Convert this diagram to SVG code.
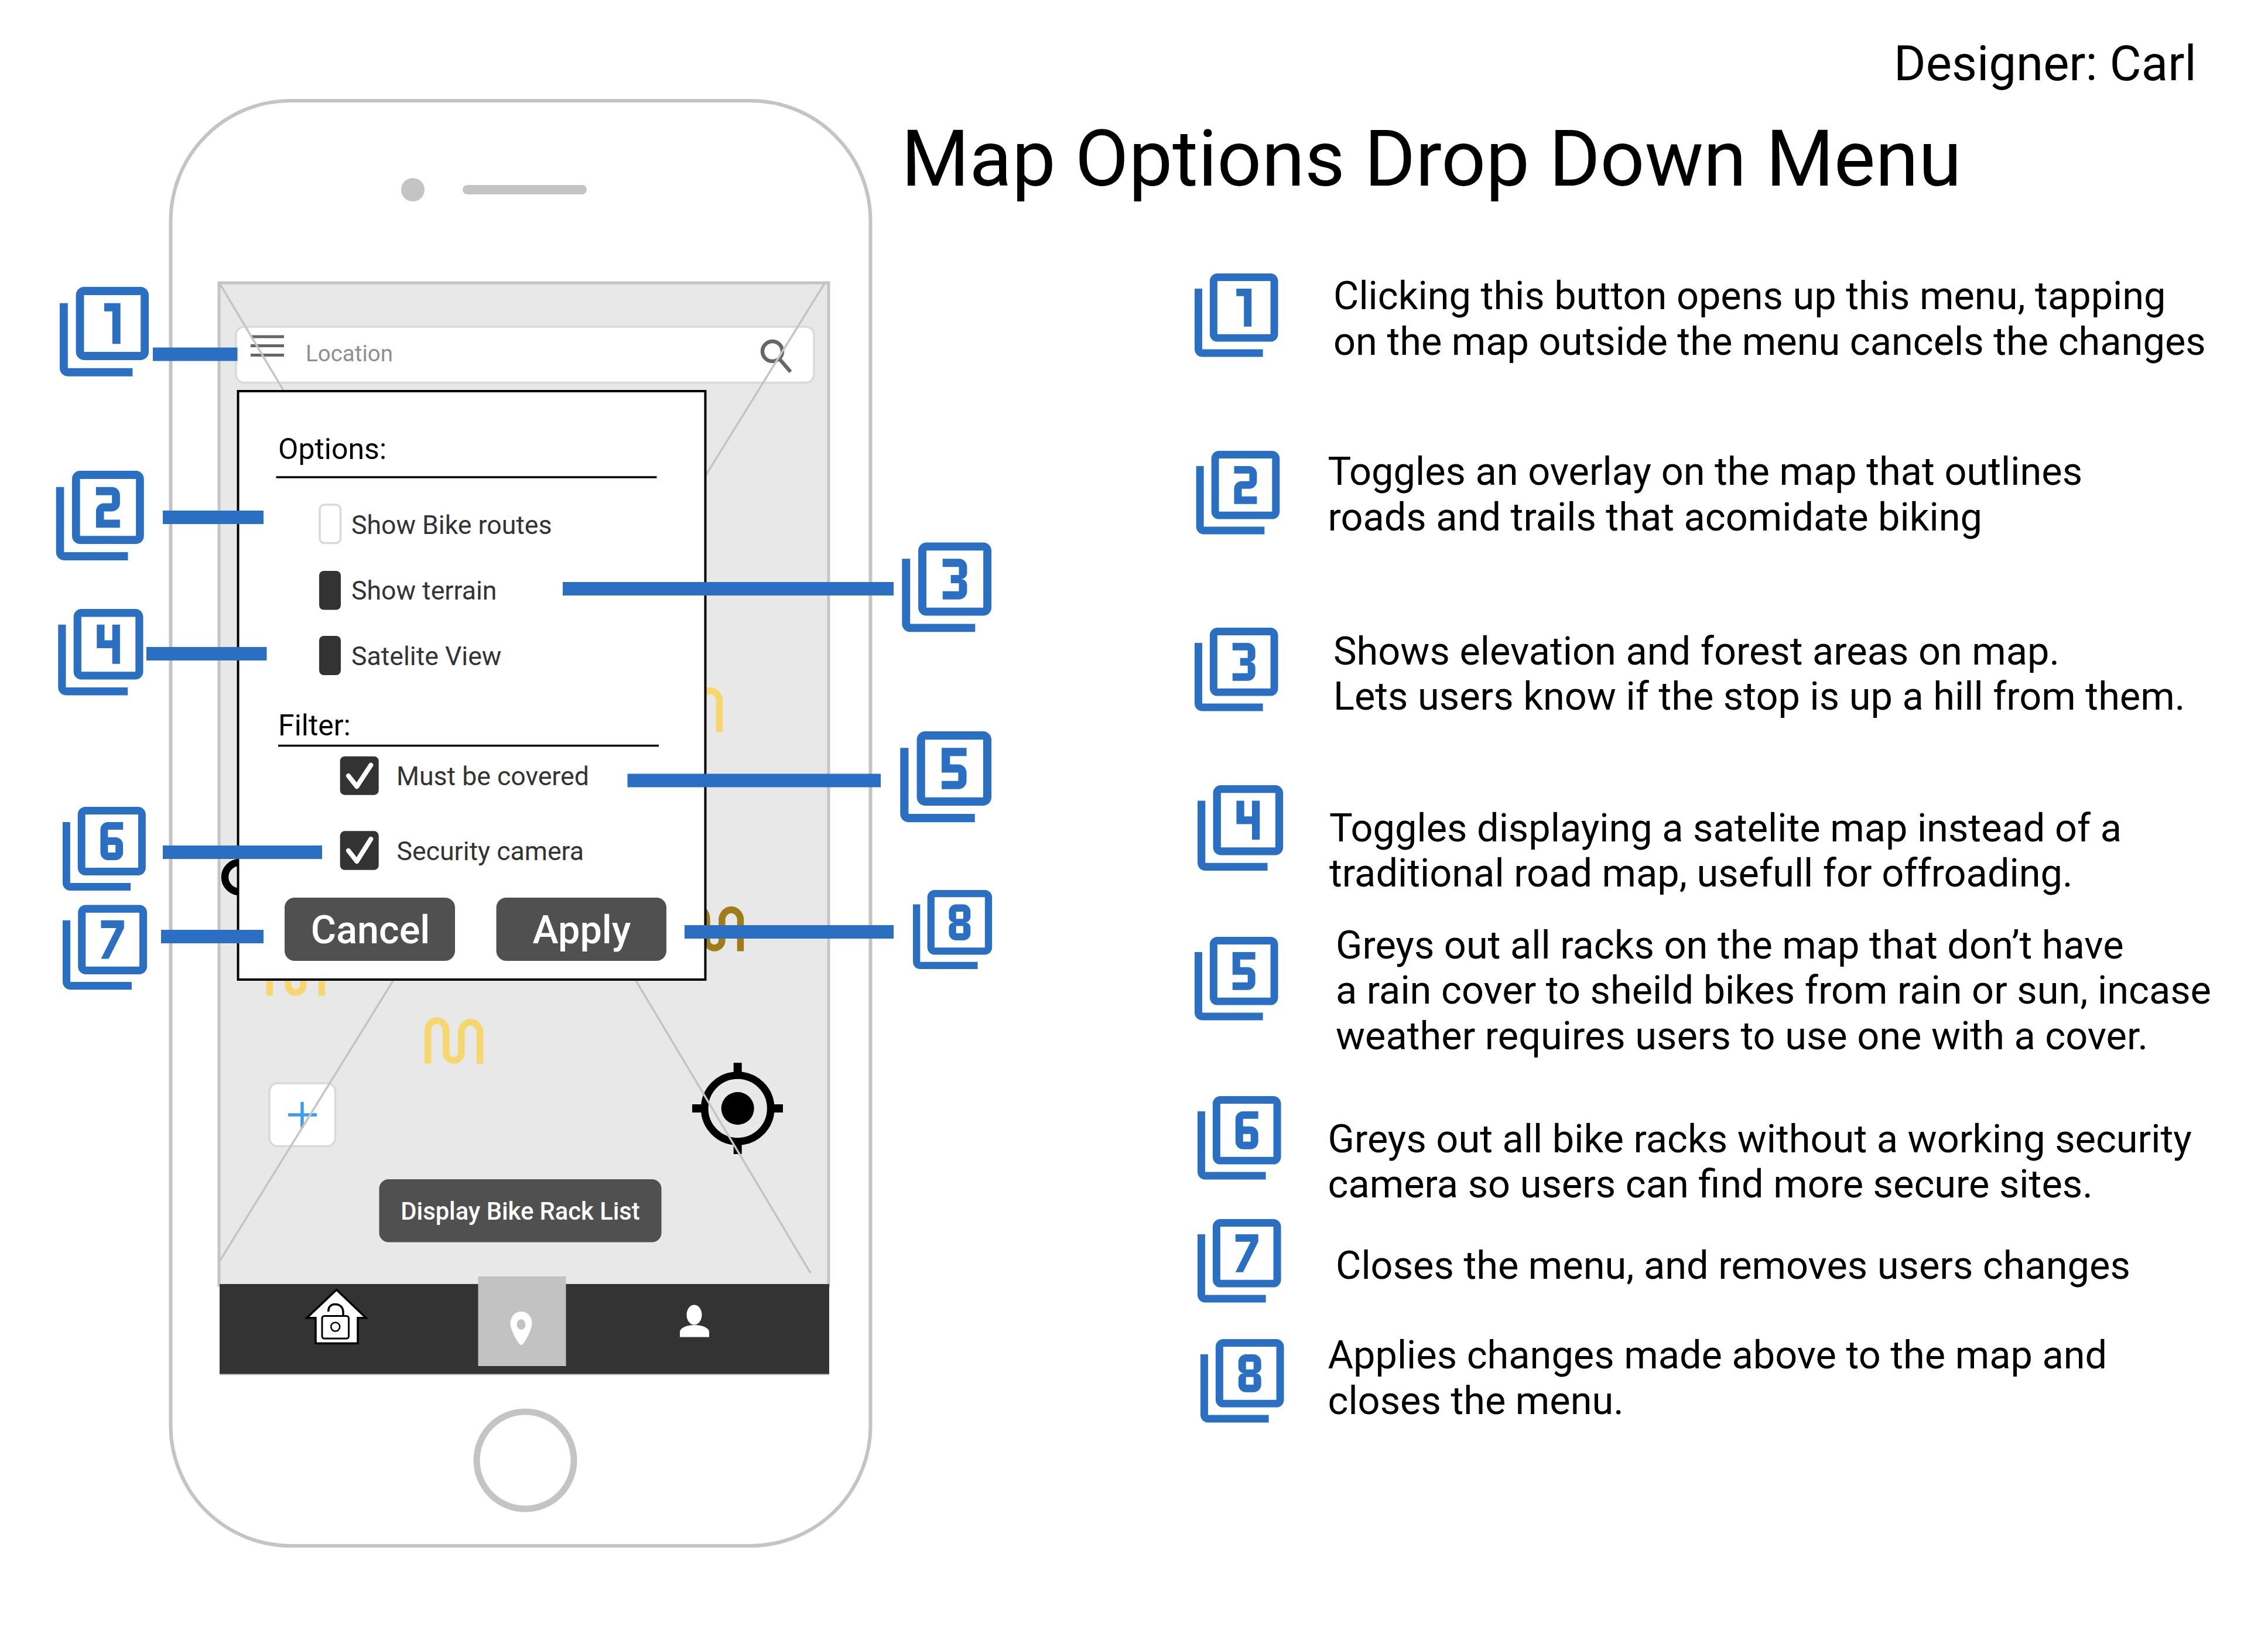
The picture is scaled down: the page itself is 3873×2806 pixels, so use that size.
<svg xmlns="http://www.w3.org/2000/svg" xmlns:xlink="http://www.w3.org/1999/xlink" width="3873" height="2806" viewBox="0 0 3873 2806">
<style>
text{font-family:Roboto,"Liberation Sans",sans-serif}
.d{font-size:66.7px;fill:#000}
.o{font-size:44.6px;fill:#333}
.h{font-size:50px;fill:#000}
.b{font-size:66.5px;fill:#fff;text-anchor:middle;font-weight:500}
.i{fill:#2a6fc1}
.c{fill:none;stroke:#2a6fc1;stroke-width:23}
.rk{fill:none;stroke-width:11.5}
.x{fill:#fff;stroke:#d9d9d9;stroke-width:3.5}
.f{fill:#333}
.ck{fill:none;stroke:#fff;stroke-width:8;stroke-linecap:round;stroke-linejoin:round}
.g{stroke:#c4c4c4;stroke-width:3.5;fill:none}
.dk{fill:#505050}
</style>
<defs>
<path id="f1" d="M3 5H1v16c0 1.1.9 2 2 2h16v-2H3V5zm11 10h2V5h-4v2h2v8zm7-14H7c-1.1 0-2 .9-2 2v14c0 1.1.9 2 2 2h14c1.1 0 2-.9 2-2V3c0-1.1-.9-2-2-2zm0 16H7V3h14v14z"/>
<path id="f2" d="M3 5H1v16c0 1.1.9 2 2 2h16v-2H3V5zm18-4H7c-1.1 0-2 .9-2 2v14c0 1.1.9 2 2 2h14c1.1 0 2-.9 2-2V3c0-1.1-.9-2-2-2zm0 16H7V3h14v14zm-4-4h-4v-2h2c1.1 0 2-.89 2-2V7c0-1.11-.9-2-2-2h-4v2h4v2h-2c-1.1 0-2 .89-2 2v4h6v-2z"/>
<path id="f3" d="M21 1H7c-1.1 0-2 .9-2 2v14c0 1.1.9 2 2 2h14c1.1 0 2-.9 2-2V3c0-1.1-.9-2-2-2zm0 16H7V3h14v14zM3 5H1v16c0 1.1.9 2 2 2h16v-2H3V5zm14 8v-1.5c0-.83-.67-1.5-1.5-1.5.83 0 1.5-.67 1.5-1.5V7c0-1.11-.9-2-2-2h-4v2h4v2h-2v2h2v2h-4v2h4c1.1 0 2-.89 2-2z"/>
<path id="f4" d="M3 5H1v16c0 1.1.9 2 2 2h16v-2H3V5zm12 10h2V5h-2v4h-2V5h-2v6h4v4zm6-14H7c-1.1 0-2 .9-2 2v14c0 1.1.9 2 2 2h14c1.1 0 2-.9 2-2V3c0-1.1-.9-2-2-2zm0 16H7V3h14v14z"/>
<path id="f5" d="M21 1H7c-1.1 0-2 .9-2 2v14c0 1.1.9 2 2 2h14c1.1 0 2-.9 2-2V3c0-1.1-.9-2-2-2zm0 16H7V3h14v14zM3 5H1v16c0 1.1.9 2 2 2h16v-2H3V5zm14 8v-2c0-1.11-.9-2-2-2h-2V7h4V5h-6v6h4v2h-4v2h4c1.1 0 2-.89 2-2z"/>
<path id="f6" d="M3 5H1v16c0 1.1.9 2 2 2h16v-2H3V5zm18-4H7c-1.1 0-2 .9-2 2v14c0 1.1.9 2 2 2h14c1.1 0 2-.9 2-2V3c0-1.1-.9-2-2-2zm0 16H7V3h14v14zm-8-2h2c1.1 0 2-.89 2-2v-2c0-1.11-.9-2-2-2h-2V7h4V5h-4c-1.1 0-2 .89-2 2v6c0 1.11.9 2 2 2zm0-4h2v2h-2v-2z"/>
<path id="f7" d="M3 5H1v16c0 1.1.9 2 2 2h16v-2H3V5zm18-4H7c-1.1 0-2 .9-2 2v14c0 1.1.9 2 2 2h14c1.1 0 2-.9 2-2V3c0-1.1-.9-2-2-2zm0 16H7V3h14v14zm-8-2l4-8V5h-6v2h4l-4 8h2z"/>
<path id="f8" d="M3 5H1v16c0 1.1.9 2 2 2h16v-2H3V5zm18-4H7c-1.1 0-2 .9-2 2v14c0 1.1.9 2 2 2h14c1.1 0 2-.9 2-2V3c0-1.1-.9-2-2-2zm0 16H7V3h14v14zm-8-2h2c1.1 0 2-.89 2-2v-1.5c0-.83-.67-1.5-1.5-1.5.83 0 1.5-.67 1.5-1.5V7c0-1.11-.9-2-2-2h-2c-1.1 0-2 .89-2 2v1.5c0 .83.67 1.5 1.5 1.5-.83 0-1.5.67-1.5 1.5V13c0 1.11.9 2 2 2zm0-8h2v2h-2V7zm0 4h2v2h-2v-2z"/>
<path id="rack" d="M730.5 1816.6V1761A15.7 18 0 0 1 761.9 1761V1798A13 13 0 0 0 787.9 1798V1761A16 18 0 0 1 819.5 1761V1816.6"/>
</defs>
<rect width="3873" height="2806" fill="#fff"/>
<g id="phone">
<rect x="291.5" y="172" width="1195" height="2468" rx="205" ry="205" fill="#fff" stroke="#c4c4c4" stroke-width="6"/>
<circle cx="705" cy="324" r="20" fill="#c4c4c4"/>
<line x1="798" y1="324" x2="994" y2="324" stroke="#c4c4c4" stroke-width="16" stroke-linecap="round"/>
<circle cx="897" cy="2494" r="83" fill="#fff" stroke="#c4c4c4" stroke-width="11"/>
</g>
<g id="screen">
<rect x="374" y="483" width="1041" height="1712" fill="#e8e8e8" stroke="#c4c4c4" stroke-width="5"/>
<use href="#rack" class="rk" stroke="#f6d76f" transform="translate(409 -566)"/>
<use href="#rack" class="rk" stroke="#f6d76f" transform="translate(-270 -116)"/>
<use href="#rack" class="rk" stroke="#f6d76f"/>
<use href="#rack" class="rk" stroke="#9f7c17" transform="translate(445 -192)"/>
<circle cx="409" cy="1498" r="25" fill="none" stroke="#000" stroke-width="12.5"/>
</g>
<g id="tab-bar">
<rect x="375" y="2193" width="1041" height="154" fill="#333"/>
<line x1="375" y1="2347.5" x2="1416" y2="2347.5" stroke="#c4c4c4" stroke-width="2"/>
<rect x="816.5" y="2180" width="150" height="153" fill="#c2c2c2"/>
<path fill="#fff" d="M890 2240C902 2240 908.5 2250 908.5 2261C908.5 2270 895 2297 890 2297C885 2297 871.5 2270 871.5 2261C871.5 2250 878 2240 890 2240Z"/>
<ellipse cx="890" cy="2262" rx="7.5" ry="9" fill="#c2c2c2"/>
<ellipse cx="1185.5" cy="2245.500" rx="13" ry="17" fill="#fff"/>
<path fill="#fff" d="M1161 2283.500V2275C1161 2268 1172 2263 1186 2263C1200 2263 1211 2268 1211 2275V2283.500Z"/>
<path fill="#fff" stroke="#000" stroke-width="3.500" d="M574.700 2202.700L625 2250.700H611V2294.300H539V2250.700H524Z"/>
<rect x="550" y="2247.500" width="45.500" height="38.500" rx="4" fill="#fff" stroke="#000" stroke-width="3"/>
<circle cx="572.700" cy="2266" r="7.500" fill="#fff" stroke="#000" stroke-width="2.500"/>
<path fill="none" stroke="#000" stroke-width="3.500" d="M560.700 2240C560.700 2232 565 2227.500 572 2227.500C581 2227.500 586 2233 586 2241V2247"/>
</g>
<g id="search-bar">
<rect class="x" x="403" y="558" width="987" height="95.500" rx="14"/>
<path stroke="#666" stroke-width="5" fill="none" d="M428 575H485M428 590.500H485M428 606.500H485"/>
<text x="522" y="617" font-size="38.500" fill="#8f8f8f">Location</text>
<circle cx="1319" cy="600" r="17" fill="none" stroke="#666" stroke-width="6.500"/>
<line x1="1331" y1="613" x2="1350" y2="635" stroke="#666" stroke-width="6.500"/>
</g>
<g id="zoom-button">
<rect class="x" x="460" y="1850" width="112.500" height="107.500" rx="14"/>
<path stroke="#3d9cf0" stroke-width="5.500" fill="none" d="M492 1904H541M516 1882V1926"/>
</g>
<g id="locate">
<circle cx="1259.700" cy="1893" r="56.500" fill="none" stroke="#000" stroke-width="12.700"/>
<circle cx="1259.700" cy="1893" r="28" fill="#000"/>
<path stroke="#000" stroke-width="14" fill="none" d="M1259.700 1815V1840M1259.700 1946V1971M1182 1893H1207M1312 1893H1337"/>
</g>
<g id="list-button">
<rect class="dk" x="647.500" y="2014" width="482" height="107.500" rx="16"/>
<text x="888.500" y="2083" font-size="41.700" font-weight="500" fill="#fff" text-anchor="middle">Display Bike Rack List</text>
</g>
<g id="wire-lines">
<line class="g" x1="375" y1="484" x2="1384" y2="2174"/>
<line class="g" x1="1408" y1="484" x2="372.500" y2="2158"/>
</g>
<g id="menu">
<rect x="406.500" y="668" width="798" height="1005" fill="#fff" stroke="#000" stroke-width="4"/>
<text class="h" x="475" y="784">Options:</text>
<line x1="471.500" y1="815" x2="1121.500" y2="815" stroke="#000" stroke-width="3.500"/>
<rect class="x" x="546" y="862" width="35.500" height="65.500" rx="8"/>
<text class="o" x="600" y="912">Show Bike routes</text>
<rect class="f" x="545" y="975" width="37" height="66.500" rx="8"/>
<text class="o" x="600" y="1023.500">Show terrain</text>
<rect class="f" x="545" y="1086" width="37" height="67" rx="8"/>
<text class="o" x="600" y="1136">Satelite View</text>
<text class="h" x="475" y="1256">Filter:</text>
<line x1="475" y1="1273.500" x2="1125" y2="1273.500" stroke="#000" stroke-width="3.500"/>
<rect class="f" x="580.700" y="1291.700" width="66" height="66" rx="8"/>
<polyline class="ck" points="595,1325 609.300,1343.300 633.300,1306.700"/>
<text class="o" x="677" y="1341.200">Must be covered</text>
<rect class="f" x="580.700" y="1419.300" width="66" height="66.500" rx="8"/>
<polyline class="ck" points="595,1452.700 609.300,1471 633.300,1433"/>
<text class="o" x="677.500" y="1469.300">Security camera</text>
<g id="cancel-button">
<rect class="dk" x="486" y="1533" width="291" height="108" rx="17"/>
<text class="b" x="632.500" y="1610.500">Cancel</text>
</g>
<g id="apply-button">
<rect class="dk" x="847.500" y="1533" width="290.500" height="108" rx="17"/>
<text class="b" x="993.500" y="1610.500">Apply</text>
</g>
</g>
<g id="connectors">
<line class="c" x1="261" y1="605" x2="405.500" y2="605"/>
<line class="c" x1="278" y1="883.500" x2="450" y2="883.500"/>
<line class="c" x1="961" y1="1005.500" x2="1526" y2="1005.500"/>
<line class="c" x1="250" y1="1116.500" x2="455.500" y2="1116.500"/>
<line class="c" x1="1071.500" y1="1333" x2="1504" y2="1333"/>
<line class="c" x1="278" y1="1455.500" x2="550" y2="1455.500"/>
<line class="c" x1="275" y1="1599.500" x2="450" y2="1599.500"/>
<line class="c" x1="1169" y1="1591.500" x2="1526" y2="1591.500"/>
</g>
<g id="callout-1"><use href="#f1" class="i" transform="translate(95.100 483.100) scale(6.910 6.940)"/></g>
<g id="callout-2"><use href="#f2" class="i" transform="translate(88.900 797.050) scale(6.820 6.950)"/></g>
<g id="callout-3"><use href="#f3" class="i" transform="translate(1533.400 919.500) scale(6.940 6.950)"/></g>
<g id="callout-4"><use href="#f4" class="i" transform="translate(92.700 1033.300) scale(6.600 6.700)"/></g>
<g id="callout-5"><use href="#f5" class="i" transform="translate(1530.200 1242) scale(7.080 7.050)"/></g>
<g id="callout-6"><use href="#f6" class="i" transform="translate(100.500 1371.500) scale(6.450 6.500)"/></g>
<g id="callout-7"><use href="#f7" class="i" transform="translate(100.450 1538.900) scale(6.550 6.580)"/></g>
<g id="callout-8"><use href="#f8" class="i" transform="translate(1552.900 1513.900) scale(6.140)"/></g>
<g id="title">
<text x="3234" y="137" font-size="83.400" fill="#000">Designer: Carl</text>
<text x="1539" y="317" font-size="133.300" fill="#000">Map Options Drop Down Menu</text>
</g>
<g id="legend-1"><use href="#f1" class="i" transform="translate(2033.500 460.500) scale(6.480)"/>
<text class="d" x="2277" y="528">Clicking this button opens up this menu, tapping</text>
<text class="d" x="2277" y="605.500">on the map outside the menu cancels the changes</text></g>
<g id="legend-2"><use href="#f2" class="i" transform="translate(2036.200 763.500) scale(6.480)"/>
<text class="d" x="2267.500" y="828">Toggles an overlay on the map that outlines</text>
<text class="d" x="2267.500" y="905.500">roads and trails that acomidate biking</text></g>
<g id="legend-3"><use href="#f3" class="i" transform="translate(2033.500 1065.500) scale(6.480)"/>
<text class="d" x="2277" y="1134.500">Shows elevation and forest areas on map.</text>
<text class="d" x="2277" y="1212">Lets users know if the stop is up a hill from them.</text></g>
<g id="legend-4"><use href="#f4" class="i" transform="translate(2038.400 1334.400) scale(6.640)"/>
<text class="d" x="2270" y="1436.500">Toggles displaying a satelite map instead of a</text>
<text class="d" x="2270" y="1513.500">traditional road map, usefull for offroading.</text></g>
<g id="legend-5"><use href="#f5" class="i" transform="translate(2033.500 1593.500) scale(6.480)"/>
<text class="d" x="2281" y="1636.500">Greys out all racks on the map that don’t have</text>
<text class="d" x="2281" y="1714">a rain cover to sheild bikes from rain or sun, incase</text>
<text class="d" x="2281" y="1792">weather requires users to use one with a cover.</text></g>
<g id="legend-6"><use href="#f6" class="i" transform="translate(2038.500 1865.500) scale(6.480)"/>
<text class="d" x="2267.500" y="1967.500">Greys out all bike racks without a working security</text>
<text class="d" x="2267.500" y="2044.500">camera so users can find more secure sites.</text></g>
<g id="legend-7"><use href="#f7" class="i" transform="translate(2038.500 2075.500) scale(6.480)"/>
<text class="d" x="2281" y="2183.500">Closes the menu, and removes users changes</text></g>
<g id="legend-8"><use href="#f8" class="i" transform="translate(2043.500 2280.500) scale(6.480)"/>
<text class="d" x="2267.500" y="2337">Applies changes made above to the map and</text>
<text class="d" x="2267.500" y="2414.500">closes the menu.</text></g>
</svg>
